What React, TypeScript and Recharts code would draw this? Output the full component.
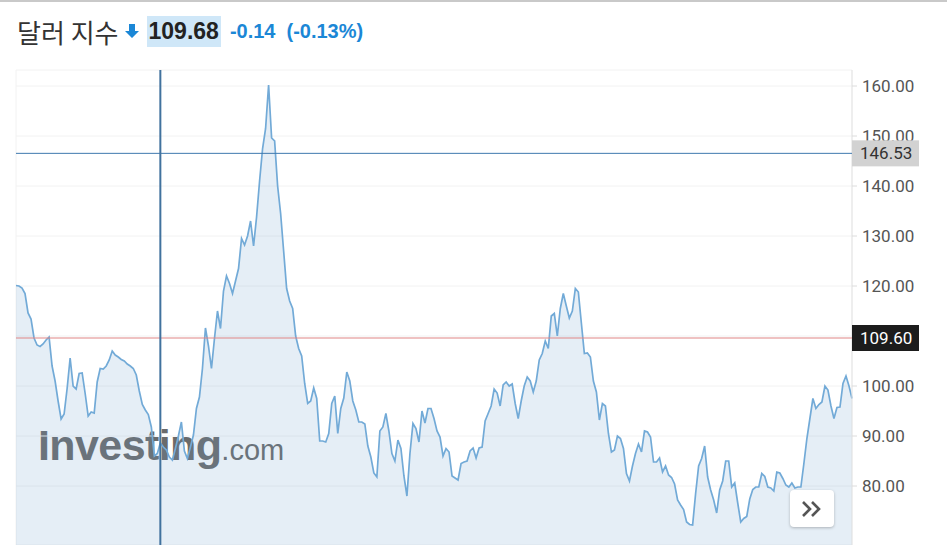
import { Area, AreaChart, CartesianGrid, ReferenceLine, XAxis, YAxis } from 'recharts';

// daily closes, oldest first
const VALUES: number[] = [
  120.1, 120.0, 119.6, 118.5, 114.6, 113.4, 109.6, 108.2, 107.9, 108.4,
  109.2, 109.8, 104.0, 101.0, 97.0, 93.4, 94.4, 99.5, 105.6, 100.0,
  99.4, 102.5, 102.6, 98.5, 94.0, 94.8, 94.6, 100.8, 103.5, 103.4,
  104.0, 105.2, 107.0, 106.2, 105.8, 105.3, 105.0, 104.4, 104.0, 103.5,
  102.2, 99.0, 96.3, 95.2, 94.3, 91.8, 86.0, 86.5, 88.6, 87.8,
  87.2, 85.8, 85.2, 87.5, 90.0, 92.8, 87.0, 85.5, 87.8, 90.2,
  95.5, 97.8, 103.5, 111.6, 108.0, 103.5, 109.5, 115.0, 111.5, 119.0,
  122.0, 120.5, 118.5, 121.0, 123.5, 129.5, 128.2, 130.0, 133.0, 128.0,
  133.8, 141.0, 147.5, 151.5, 160.2, 149.6, 149.0, 140.0, 134.5, 127.0,
  119.5, 117.0, 115.5, 110.0, 107.5, 106.0, 100.5, 96.5, 97.0, 99.6,
  97.5, 89.0, 89.0, 88.8, 90.5, 96.5, 98.0, 90.5, 95.5, 97.6,
  102.8, 101.0, 97.0, 95.2, 92.8, 92.8, 92.4, 88.0, 85.8, 82.6,
  81.8, 91.0, 91.8, 94.5, 91.0, 86.5, 85.0, 89.2, 87.5, 82.0,
  78.0, 86.5, 92.5, 91.5, 88.8, 95.0, 92.6, 95.5, 95.5, 93.5,
  91.0, 89.8, 86.0, 87.5, 86.8, 82.0, 81.6, 81.2, 84.5, 84.8,
  85.0, 87.0, 87.6, 85.6, 87.6, 87.8, 93.0, 94.5, 96.0, 99.4,
  98.6, 96.0, 100.2, 100.8, 100.0, 100.4, 96.5, 93.5, 97.0, 100.0,
  101.8, 101.0, 98.8, 101.0, 105.2, 106.5, 109.0, 107.5, 114.0, 114.5,
  110.0, 115.5, 118.5, 116.0, 113.6, 115.0, 119.5, 118.8, 112.6, 106.5,
  106.6, 105.8, 101.0, 98.8, 93.2, 96.5, 96.0, 90.5, 86.8, 87.2,
  90.0, 89.5, 87.5, 82.5, 81.0, 84.0, 86.5, 88.4, 86.8, 91.0,
  90.8, 89.8, 84.8, 84.8, 85.6, 82.8, 84.0, 82.2, 81.7, 80.4,
  77.2, 76.2, 75.3, 72.8, 72.3, 72.2, 78.5, 84.0, 85.5, 88.0,
  81.8, 79.2, 77.2, 74.6, 79.2, 81.0, 85.0, 85.0, 79.8, 80.6,
  76.6, 72.8, 73.5, 73.9, 77.4, 79.3, 79.8, 79.8, 82.5, 81.9,
  79.8, 79.6, 79.0, 82.8, 82.6, 81.5, 80.2, 79.8, 80.6, 79.6,
  79.8, 79.8, 84.5, 89.5, 93.5, 97.5, 95.5, 96.3, 96.8, 100.0,
  99.2, 96.0, 93.5, 95.7, 95.8, 100.5, 102.0, 100.0, 97.5,
];

const Y_TICKS = [80, 90, 100, 110, 120, 130, 140, 150, 160];
const X_GRID = [24, 54, 84, 114, 144, 174, 204, 234, 264];
const Y_DOMAIN: [number, number] = [68.2, 163.2];

const CURSOR_INDEX = 48;
const CURSOR_PRICE = 146.53;
const LAST_PRICE = 109.6;

const TITLE = '달러 지수';
const PRICE = '109.68';
const CHANGE = '-0.14';
const CHANGE_PCT = '(-0.13%)';

const BLUE = '#1b87d6';
const NUM_FONT = '"Liberation Sans", Arial, sans-serif';
const MARGIN = { top: 70, right: 0, bottom: 0, left: 16 };

const priceBox = (text: string, bg: string, color: string) => (props: any) => {
  const vb = props.viewBox || {};
  const x = vb.x + vb.width;
  const y = vb.y;
  return (
    <g>
      <rect x={x} y={y - 13} width={67} height={26} fill={bg} />
      <text x={x + 8} y={y + 6} fill={color} fontSize={17} fontFamily="Roboto, sans-serif">
        {text}
      </text>
    </g>
  );
};

export default function App() {
  const data = VALUES.map((v, i) => ({ i, v }));
  const xDomain = [0, VALUES.length - 1];

  return (
    <div
      style={{
        position: 'absolute',
        left: 0,
        top: 0,
        width: 947,
        height: 545,
        background: '#fff',
        overflow: 'hidden',
        borderTop: '2px solid #c9c9c9',
        boxSizing: 'border-box',
      }}
    >
      <div style={{ position: 'absolute', left: 17, top: 13, height: 32, display: 'flex', alignItems: 'center' }}>
        <span style={{ fontFamily: '"Noto Sans CJK KR", sans-serif', fontSize: 26, color: '#333' }}>{TITLE}</span>
        <svg width={14} height={14} viewBox="0 0 14 14" style={{ marginLeft: 6 }}>
          <path d="M4 0h6v7h4l-7 7-7-7h4z" fill={BLUE} />
        </svg>
        <span
          style={{
            marginLeft: 8,
            padding: '0 2px',
            background: '#cfe7f8',
            fontFamily: NUM_FONT,
            fontWeight: 700,
            fontSize: 23,
            lineHeight: '31px',
            color: '#222',
          }}
        >
          {PRICE}
        </span>
        <span style={{ marginLeft: 9, fontFamily: NUM_FONT, fontWeight: 700, fontSize: 20, color: BLUE }}>{CHANGE}</span>
        <span style={{ marginLeft: 11, fontFamily: NUM_FONT, fontWeight: 700, fontSize: 20, color: BLUE }}>{CHANGE_PCT}</span>
      </div>

      <div
        style={{
          position: 'absolute',
          left: 38,
          top: 422,
          lineHeight: '42px',
          whiteSpace: 'nowrap',
          color: '#6a6a6a',
          fontFamily: NUM_FONT,
        }}
      >
        <span style={{ fontSize: 43, fontWeight: 700, letterSpacing: -0.6 }}>Investing</span>
        <span style={{ fontSize: 29 }}>.com</span>
      </div>

      <div style={{ position: 'absolute', left: 0, top: -2 }}>
        <AreaChart width={947} height={545} data={data} margin={MARGIN}>
          <CartesianGrid stroke="#f2f2f2" />
          <XAxis
            dataKey="i"
            type="number"
            domain={xDomain}
            ticks={X_GRID}
            tick={false}
            axisLine={false}
            tickLine={false}
            height={0}
          />
          <YAxis
            orientation="right"
            domain={Y_DOMAIN}
            ticks={Y_TICKS}
            allowDataOverflow
            width={95}
            tickFormatter={(v: number) => v.toFixed(2)}
            tick={{ fontSize: 17, fill: '#555', fontFamily: 'Roboto, sans-serif', textAnchor: 'start' }}
            axisLine={{ stroke: '#e3e3e3' }}
            tickLine={{ stroke: '#dcdcdc' }}
            tickSize={5}
            tickMargin={5}
          />
          <Area
            type="linear"
            dataKey="v"
            stroke="#72aad7"
            strokeWidth={1.7}
            fill="#6f9fcc"
            fillOpacity={0.18}
            dot={false}
            activeDot={false}
            isAnimationActive={false}
          />
        </AreaChart>
      </div>

      {/* second layer with the same scales so the price tags sit above the axis labels */}
      <div style={{ position: 'absolute', left: 0, top: -2 }}>
        <AreaChart width={947} height={545} data={data} margin={{ ...MARGIN, right: 95 }}>
          <XAxis dataKey="i" type="number" domain={xDomain} hide />
          <YAxis domain={Y_DOMAIN} allowDataOverflow hide />
          <ReferenceLine y={LAST_PRICE} stroke="#df8585" strokeWidth={1} label={priceBox(LAST_PRICE.toFixed(2), '#1c1c1c', '#fff')} />
          <ReferenceLine y={CURSOR_PRICE} stroke="#3f79ae" strokeWidth={1} label={priceBox(CURSOR_PRICE.toFixed(2), '#d2d2d2', '#333')} />
          <ReferenceLine x={CURSOR_INDEX} stroke="#41729e" strokeWidth={2} />
        </AreaChart>
      </div>

      <div
        style={{
          position: 'absolute',
          left: 790,
          top: 488,
          width: 44,
          height: 37,
          background: '#fff',
          borderRadius: 4,
          boxShadow: '0 1px 3px rgba(0,0,0,0.25)',
          display: 'flex',
          alignItems: 'center',
          justifyContent: 'center',
        }}
      >
        <svg width={22} height={18} viewBox="0 0 22 18">
          <path d="M2 2l7 7-7 7M11 2l7 7-7 7" fill="none" stroke="#555" strokeWidth={2.6} />
        </svg>
      </div>
    </div>
  );
}
